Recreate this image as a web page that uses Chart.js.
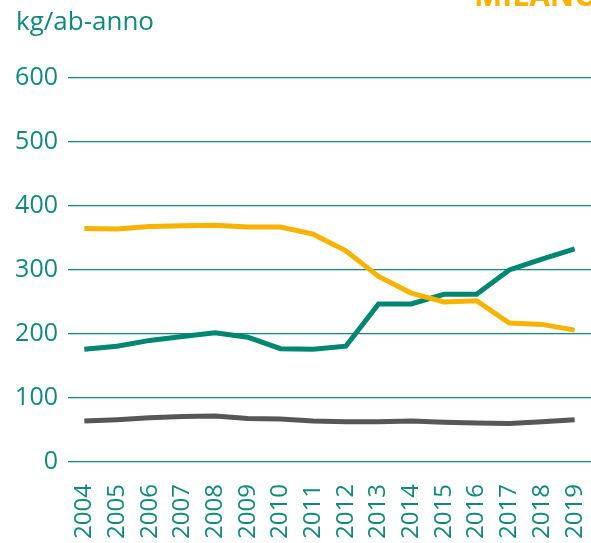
<!DOCTYPE html>
<html>
<head>
<meta charset="utf-8">
<script src="https://cdn.jsdelivr.net/npm/chart.js@4"></script>
<style>
  html, body { margin: 0; padding: 0; background: #fff; }
  #wrap { width: 591px; height: 543px; }
</style>
</head>
<body>
<div id="wrap"><canvas id="rifiutiChart" width="591" height="543"></canvas></div>
<script>
const years = ['2004', '2005', '2006', '2007', '2008', '2009', '2010', '2011',
               '2012', '2013', '2014', '2015', '2016', '2017', '2018', '2019'];
const yellowSeries = [365, 364, 368, 369, 370, 367, 367, 356, 330, 290, 264, 250, 252, 217, 215, 206];
const greenSeries  = [176, 181, 190, 196, 202, 195, 177, 176, 181, 247, 247, 262, 262, 300, 317, 333];
const greySeries   = [64, 66, 69, 71, 72, 68, 67, 64, 63, 63, 64, 62, 61, 60, 63, 66];
const yTicks = [0, 100, 200, 300, 400, 500, 600];
const unitLabel = 'kg/ab-anno';
const cityLabel = 'MILANO';

const teal = '#11897a';
const fontFamily = '"Open Sans", "Noto Sans", sans-serif';

// extra texts: unit label top-left and the cut-off city name top-right
const textPlugin = {
  id: 'extraText',
  afterDraw(chart) {
    const c = chart.ctx;
    c.save();
    c.fillStyle = teal;
    c.font = '26px ' + fontFamily;
    c.textBaseline = 'alphabetic';
    c.textAlign = 'left';
    c.fillText(unitLabel, 16, 30);
    c.fillStyle = '#f8b200';
    c.font = 'bold 30px ' + fontFamily;
    c.fillText(cityLabel, 474, 6);
    c.restore();
  }
};

const ctx = document.getElementById('rifiutiChart').getContext('2d');
const rifiutiChart = new Chart(ctx, {
  type: 'line',
  data: {
    labels: years,
    datasets: [{
      data: yellowSeries,
      borderColor: '#f8b200',
      borderWidth: 5,
      pointRadius: 0,
      tension: 0
    }, {
      data: greenSeries,
      borderColor: '#00876f',
      borderWidth: 5,
      pointRadius: 0,
      tension: 0
    }, {
      data: greySeries,
      borderColor: '#575757',
      borderWidth: 5,
      pointRadius: 0,
      tension: 0
    }]
  },
  options: {
    responsive: false,
    animation: false,
    layout: { padding: { top: 78, right: 0, left: 0, bottom: 0 } },
    plugins: {
      legend: { display: false },
      tooltip: { enabled: false }
    },
    scales: {
      x: {
        offset: true,
        grid: { display: false, drawTicks: false },
        border: { display: false },
        ticks: {
          color: teal,
          font: { family: fontFamily, size: 24 },
          maxRotation: 90,
          minRotation: 90,
          padding: 22,
          autoSkip: false
        },
        afterFit(scale) {
          scale.height = 81;
          scale.paddingLeft = 0;
          scale.paddingRight = 0;
        }
      },
      y: {
        min: 0,
        max: 600,
        afterBuildTicks(scale) { scale.ticks = yTicks.map(v => ({ value: v })); },
        grid: { color: teal, lineWidth: 1.3, drawTicks: false },
        border: { display: false },
        ticks: {
          color: teal,
          font: { family: fontFamily, size: 25 },
          padding: 10
        },
        afterFit(scale) { scale.width = 68; }
      }
    }
  },
  plugins: [textPlugin]
});
</script>
</body>
</html>
